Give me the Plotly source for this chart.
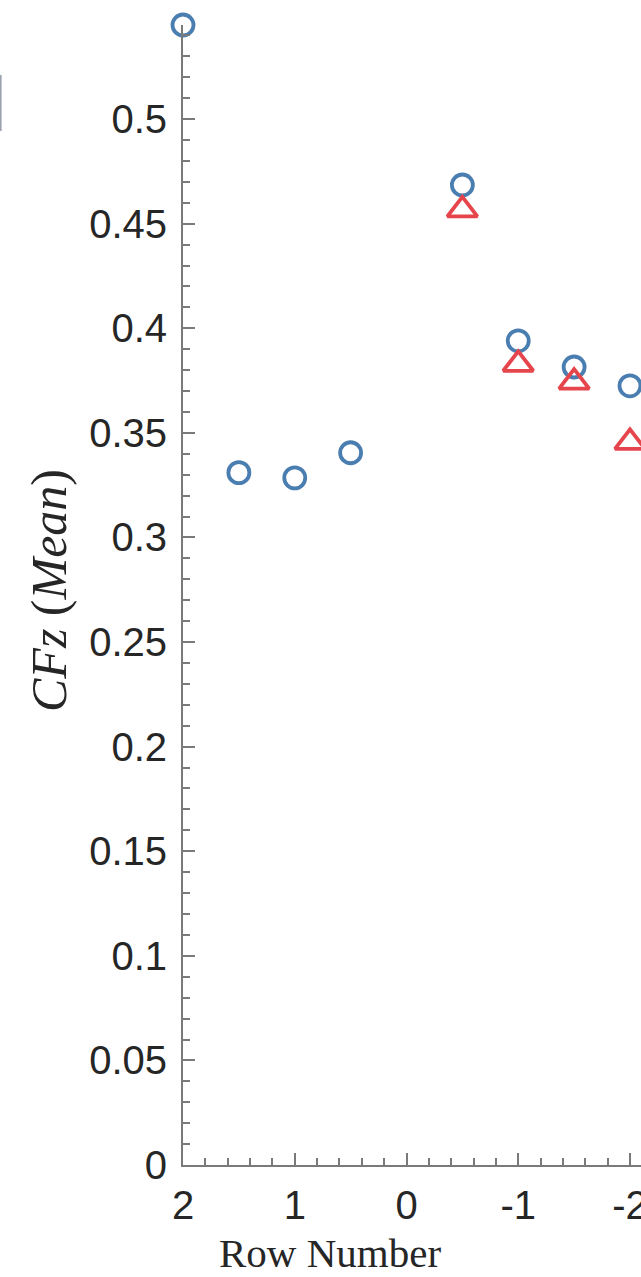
import plotly.graph_objects as go

# Data
rows_circle = [2, 1.5, 1, 0.5, -0.5, -1, -1.5, -2]
cfz_circle = [0.545, 0.331, 0.3285, 0.3405, 0.4685, 0.394, 0.3815, 0.3725]
rows_tri = [-0.5, -1, -1.5, -2]
cfz_tri = [0.4566, 0.3828, 0.3743, 0.3455]

y_tickvals = [0, 0.05, 0.1, 0.15, 0.2, 0.25, 0.3, 0.35, 0.4, 0.45, 0.5]
y_ticktext = ["0", "0.05", "0.1", "0.15", "0.2", "0.25", "0.3", "0.35", "0.4", "0.45", "0.5"]
x_tickvals = [2, 1, 0, -1, -2]
x_ticktext = ["2", "1", "0", "-1", "-2"]

BLUE = "#4a7db0"
RED = "#e5454b"
AXIS = "#7a7a7a"
TXT = "#262626"

fig = go.Figure()
fig.add_trace(go.Scatter(
    x=rows_circle, y=cfz_circle, mode="markers", cliponaxis=False,
    marker=dict(symbol="circle-open", size=21, color=BLUE, line=dict(width=3.8, color=BLUE)),
    showlegend=False))
fig.add_trace(go.Scatter(
    x=rows_tri, y=cfz_tri, mode="markers", cliponaxis=False,
    marker=dict(symbol="triangle-up-open", size=26, color=RED, line=dict(width=3.8, color=RED)),
    showlegend=False))

W, H = 641, 1277
L, T, B = 183, 25, 112
pw = W - L
ph = H - T - B

def px_to_paper_x(px):
    return (px - L) / pw

def px_to_paper_y(py):
    return (H - B - py) / ph

tickfont = dict(family="Liberation Sans, Arial, sans-serif", size=40, color=TXT)

fig.update_layout(
    width=W, height=H,
    margin=dict(l=L, r=0, t=T, b=B, pad=0),
    paper_bgcolor="white", plot_bgcolor="white",
    xaxis=dict(
        range=[2, -2.0985], showgrid=False, zeroline=False,
        showline=True, linecolor=AXIS, linewidth=2,
        ticks="inside", ticklen=12, tickwidth=1.5, tickcolor=AXIS,
        tickvals=x_tickvals, ticktext=x_ticktext, tickfont=tickfont,
        ticklabelstandoff=4, ticklabeloverflow="allow",
        minor=dict(dtick=0.2, ticks="inside", ticklen=7, tickwidth=1.5, tickcolor=AXIS),
        automargin=False,
    ),
    yaxis=dict(
        range=[0, 0.545], showgrid=False, zeroline=False,
        showline=True, linecolor=AXIS, linewidth=2,
        ticks="inside", ticklen=12, tickwidth=1.5, tickcolor=AXIS,
        tickvals=y_tickvals, ticktext=y_ticktext, tickfont=tickfont,
        ticklabelstandoff=6, ticklabeloverflow="allow",
        minor=dict(dtick=0.01, ticks="inside", ticklen=7, tickwidth=1.5, tickcolor=AXIS),
        automargin=False,
    ),
    annotations=[
        dict(text="Row Number", xref="paper", yref="paper",
             x=px_to_paper_x(330), y=px_to_paper_y(1253),
             xanchor="center", yanchor="middle", showarrow=False,
             font=dict(family="Liberation Serif, Times New Roman, serif", size=41, color=TXT)),
        dict(text="<i>CFz</i> (<i>Mean</i>)", xref="paper", yref="paper",
             x=px_to_paper_x(49), y=px_to_paper_y(591), textangle=-90,
             xanchor="center", yanchor="middle", showarrow=False,
             font=dict(family="Liberation Serif, Times New Roman, serif", size=50, color=TXT)),
    ],
    shapes=[
        dict(type="line", xref="paper", yref="paper",
             x0=px_to_paper_x(0.8), x1=px_to_paper_x(0.8),
             y0=px_to_paper_y(75), y1=px_to_paper_y(131),
             line=dict(color="#9aa3ad", width=1.6)),
    ],
)

fig.write_html("out.html")
